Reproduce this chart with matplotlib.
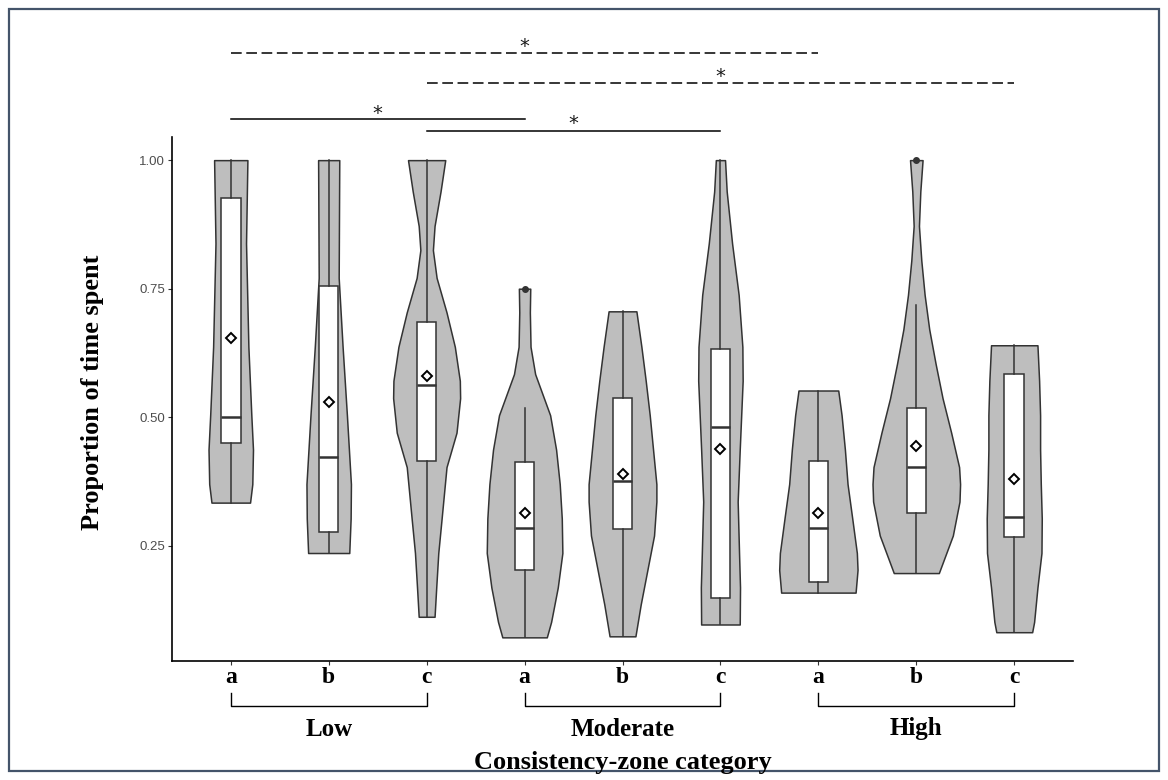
import numpy as np
import matplotlib.pyplot as plt
from matplotlib.transforms import blended_transform_factory
from matplotlib.patches import Rectangle

# categories
groups = ["Low", "Moderate", "High"]
subcats = ["a", "b", "c", "a", "b", "c", "a", "b", "c"]
positions = np.arange(1, 10)

# violin outlines: y values and half widths (x units)
vio_y = [
    [1.0, 0.838, 0.637, 0.504, 0.437, 0.370, 0.334],
    [1.0, 0.771, 0.637, 0.504, 0.370, 0.303, 0.236],
    [1.0, 0.939, 0.872, 0.825, 0.771, 0.704, 0.637, 0.571, 0.537, 0.470, 0.403, 0.303, 0.236, 0.169, 0.112],
    [0.75, 0.704, 0.637, 0.584, 0.504, 0.437, 0.370, 0.303, 0.236, 0.169, 0.102, 0.072],
    [0.706, 0.637, 0.571, 0.504, 0.437, 0.370, 0.336, 0.270, 0.203, 0.136, 0.074],
    [1.0, 0.939, 0.838, 0.738, 0.637, 0.571, 0.437, 0.336, 0.236, 0.169, 0.097],
    [0.552, 0.504, 0.437, 0.370, 0.303, 0.236, 0.203, 0.159],
    [1.0, 0.939, 0.872, 0.805, 0.738, 0.671, 0.604, 0.537, 0.470, 0.403, 0.370, 0.336, 0.270, 0.197],
    [0.640, 0.571, 0.504, 0.437, 0.370, 0.303, 0.236, 0.169, 0.102, 0.082],
]
vio_hw = [
    [0.170, 0.156, 0.180, 0.210, 0.227, 0.220, 0.197],
    [0.108, 0.102, 0.142, 0.186, 0.227, 0.224, 0.210],
    [0.190, 0.142, 0.081, 0.064, 0.102, 0.203, 0.288, 0.339, 0.342, 0.305, 0.203, 0.153, 0.119, 0.098, 0.081],
    [0.058, 0.054, 0.061, 0.108, 0.261, 0.322, 0.359, 0.380, 0.386, 0.339, 0.271, 0.227],
    [0.142, 0.193, 0.237, 0.278, 0.312, 0.346, 0.346, 0.322, 0.254, 0.186, 0.132],
    [0.047, 0.064, 0.119, 0.186, 0.224, 0.227, 0.197, 0.176, 0.190, 0.200, 0.197],
    [0.203, 0.237, 0.271, 0.298, 0.346, 0.393, 0.400, 0.380],
    [0.064, 0.041, 0.027, 0.051, 0.085, 0.132, 0.197, 0.268, 0.356, 0.437, 0.447, 0.441, 0.373, 0.230],
    [0.237, 0.254, 0.264, 0.264, 0.271, 0.281, 0.278, 0.237, 0.203, 0.183],
]

# box plot statistics
q1 = [0.450, 0.276, 0.415, 0.203, 0.282, 0.149, 0.179, 0.314, 0.268]
med = [0.500, 0.422, 0.5625, 0.284, 0.377, 0.482, 0.285, 0.403, 0.306]
q3 = [0.927, 0.755, 0.686, 0.413, 0.538, 0.633, 0.415, 0.518, 0.585]
whislo = [0.334, 0.236, 0.112, 0.072, 0.074, 0.097, 0.159, 0.197, 0.082]
whishi = [1.0, 1.0, 1.0, 0.518, 0.706, 1.0, 0.552, 0.718, 0.640]
means = [0.655, 0.530, 0.581, 0.313, 0.389, 0.439, 0.314, 0.445, 0.380]
fliers = [[], [], [], [0.75], [], [], [], [1.0], []]

# significance comparisons (group positions)
sig_x0 = [1, 3, 1, 3]
sig_x1 = [7, 9, 4, 6]

W, H = 1168, 780
fig = plt.figure(figsize=(W / 100, H / 100), dpi=100)
ax = fig.add_axes([172 / W, 1 - 661 / H, (1073 - 172) / W, (661 - 137) / H])

edge = "#333333"

vpstats = []
for i in range(9):
    vpstats.append({"coords": vio_y[i], "vals": vio_hw[i], "mean": means[i],
                    "median": med[i], "min": min(vio_y[i]), "max": max(vio_y[i])})
widths = [2 * max(h) for h in vio_hw]
vp = ax.violin(vpstats, positions=positions, widths=widths, showmeans=False,
               showextrema=False, showmedians=False)
for b in vp["bodies"]:
    b.set_facecolor("#BEBEBE")
    b.set_edgecolor(edge)
    b.set_linewidth(1.1)
    b.set_alpha(1)
    b.set_zorder(1)

bxpstats = []
for i in range(9):
    bxpstats.append({"med": med[i], "q1": q1[i], "q3": q3[i], "whislo": whislo[i],
                     "whishi": whishi[i], "mean": means[i], "fliers": fliers[i]})
ax.bxp(bxpstats, positions=positions, widths=0.2, patch_artist=True,
       showmeans=True, showcaps=False, showfliers=True,
       boxprops=dict(facecolor="white", edgecolor=edge, linewidth=1.1),
       medianprops=dict(color=edge, linewidth=1.8),
       whiskerprops=dict(color=edge, linewidth=1.1),
       meanprops=dict(marker="D", markerfacecolor="white", markeredgecolor="black",
                      markersize=5.5, markeredgewidth=1.4),
       flierprops=dict(marker="o", markerfacecolor=edge, markeredgecolor=edge, markersize=4),
       zorder=2)

ax.set_xlim(0.4, 9.6)
ax.set_ylim(0.026, 1.045)
ax.set_yticks([0.25, 0.50, 0.75, 1.00])
ax.set_yticklabels(["0.25", "0.50", "0.75", "1.00"], fontsize=9.5, color="#4D4D4D",
                   family="Liberation Sans")
ax.set_xticks(positions)
ax.set_xticklabels(subcats, fontsize=17, fontweight="bold", family="Liberation Serif")
ax.tick_params(axis="both", length=3, width=0.8, color=edge)
ax.tick_params(axis="x", pad=1)
ax.tick_params(axis="y", pad=2)
for s in ["top", "right"]:
    ax.spines[s].set_visible(False)
for s in ["left", "bottom"]:
    ax.spines[s].set_linewidth(1.2)
    ax.spines[s].set_color("black")

fy = lambda py: 1 - py / H
trans = blended_transform_factory(ax.transData, fig.transFigure)

# group brackets under the a/b/c labels
for k, g in enumerate(groups):
    x0, x1 = 3 * k + 1, 3 * k + 3
    ax.plot([x0, x0, x1, x1], [fy(693), fy(706), fy(706), fy(693)], color="black",
            lw=1.0, transform=trans, clip_on=False)
    ax.text(3 * k + 2, fy(729), g, transform=trans, ha="center", va="center",
            fontsize=18, fontweight="bold", family="Liberation Serif")

fig.text((172 + 1073) / 2 / W, fy(762), "Consistency-zone category", ha="center",
         va="center", fontsize=19, fontweight="bold", family="Liberation Serif")
fig.text(93 / W, fy(392), "Proportion of time spent", rotation=90, ha="center",
         va="center", fontsize=19, fontweight="bold", family="Liberation Serif")

# significance lines
sig_py = [52.5, 82.5, 118.5, 130.5]
sig_ls = [(0, (7, 3)), (0, (7, 3)), "-", "-"]
star_py = [52, 82, 119.5, 129.5]
for i in range(4):
    ax.plot([sig_x0[i], sig_x1[i]], [fy(sig_py[i])] * 2, color="black", lw=1.1,
            linestyle=sig_ls[i], transform=trans, clip_on=False)
    ax.text((sig_x0[i] + sig_x1[i]) / 2, fy(star_py[i]), "*", transform=trans,
            ha="center", va="baseline", fontsize=14, family="DejaVu Sans",
            color="#1a1a1a")

# outer frame of the picture
fig.patches.append(Rectangle((9 / W, 9 / H), (W - 18) / W, (H - 18) / H,
                             transform=fig.transFigure, fill=False,
                             edgecolor="#44546A", linewidth=1.6))

fig.savefig("out.png", dpi=100)
